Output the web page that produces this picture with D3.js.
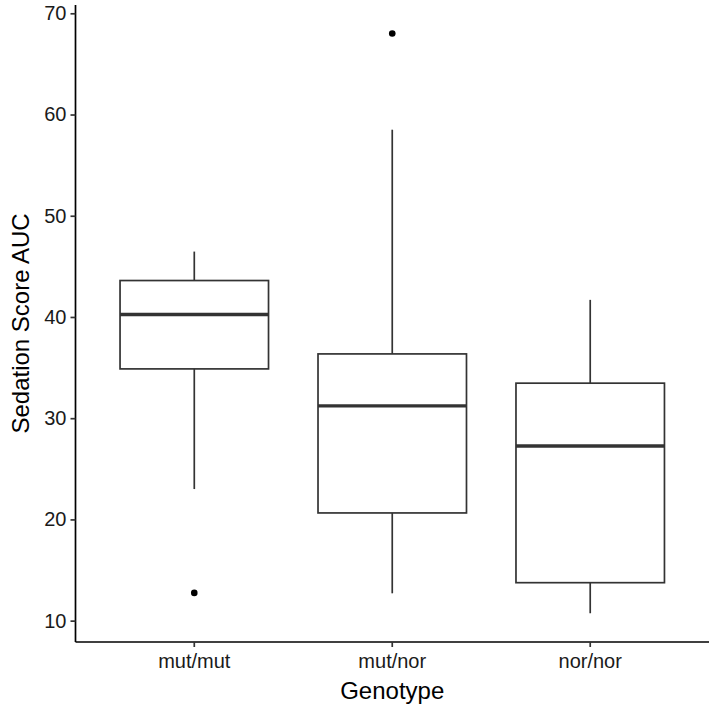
<!DOCTYPE html>
<html>
<head>
<meta charset="utf-8">
<script src="https://cdn.jsdelivr.net/npm/d3@7"></script>
<style>
  body { margin: 0; background: #fff; }
  svg { display: block; font-family: "Liberation Sans", Arial, sans-serif; }
</style>
</head>
<body>
<svg width="709" height="712"></svg>
<script>
// Values
const genotypes = ["mut/mut", "mut/nor", "nor/nor"];
const lowerWhisker = [23.0, 12.7, 10.73];
const q1 = [34.87, 20.64, 13.75];
const median = [40.24, 31.22, 27.26];
const q3 = [43.6, 36.35, 33.46];
const upperWhisker = [46.46, 58.5, 41.69];
const outliers = [[12.74], [68.0], []];
const yTicks = [10, 20, 30, 40, 50, 60, 70];

const svg = d3.select("svg");
const plotLeft = 75.5, plotRight = 709, plotTop = 5, plotBottom = 642;

const y = d3.scaleLinear().domain([7.89, 70.82]).range([plotBottom, plotTop]);
const x = d3.scaleBand().domain(genotypes).range([plotLeft, plotRight])
  .paddingOuter(0.1).paddingInner(0);
// ggplot box width is 0.75 of the category step
const boxW = x.step() * 0.75;
const cx = (g) => x(g) + x.bandwidth() / 2;

const boxes = genotypes.map((g, i) => ({
  g, lo: lowerWhisker[i], q1: q1[i], med: median[i], q3: q3[i], hi: upperWhisker[i], out: outliers[i]
}));

const lineCol = "#333", lw = 1.7;
const plot = svg.append("g");
const box = plot.selectAll(".box").data(boxes).enter().append("g");

box.append("line")
  .attr("x1", d => cx(d.g)).attr("x2", d => cx(d.g))
  .attr("y1", d => y(d.q3)).attr("y2", d => y(d.hi))
  .attr("stroke", lineCol).attr("stroke-width", lw);
box.append("line")
  .attr("x1", d => cx(d.g)).attr("x2", d => cx(d.g))
  .attr("y1", d => y(d.q1)).attr("y2", d => y(d.lo))
  .attr("stroke", lineCol).attr("stroke-width", lw);
box.append("rect")
  .attr("x", d => cx(d.g) - boxW / 2).attr("width", boxW)
  .attr("y", d => y(d.q3)).attr("height", d => y(d.q1) - y(d.q3))
  .attr("fill", "#fff").attr("stroke", lineCol).attr("stroke-width", lw);
box.append("line")
  .attr("x1", d => cx(d.g) - boxW / 2).attr("x2", d => cx(d.g) + boxW / 2)
  .attr("y1", d => y(d.med)).attr("y2", d => y(d.med))
  .attr("stroke", lineCol).attr("stroke-width", 3.4);
box.selectAll("circle").data(d => d.out.map(v => ({ g: d.g, v }))).enter()
  .append("circle")
  .attr("cx", d => cx(d.g)).attr("cy", d => y(d.v)).attr("r", 3.3)
  .attr("fill", "#000");

// axes
const yAxis = svg.append("g").attr("transform", `translate(${plotLeft},0)`)
  .call(d3.axisLeft(y).tickValues(yTicks).tickSize(5).tickPadding(4).tickSizeOuter(0));
const xAxis = svg.append("g").attr("transform", `translate(0,${plotBottom})`)
  .call(d3.axisBottom(x).tickSize(5).tickPadding(7).tickSizeOuter(0));

[yAxis, xAxis].forEach(a => {
  a.select(".domain").attr("stroke", "#000").attr("stroke-width", lw);
  a.selectAll(".tick line").attr("stroke", lineCol).attr("stroke-width", lw);
  a.selectAll(".tick text").attr("fill", "#1a1a1a").style("font-size", "20px")
    .style("font-family", "Liberation Sans, Arial, sans-serif");
});
yAxis.select(".domain").attr("d", `M0,${plotTop}V${plotBottom}`);
xAxis.select(".domain").attr("d", `M${plotLeft},0H${plotRight}`);

svg.append("text")
  .attr("x", (plotLeft + plotRight) / 2).attr("y", 699)
  .attr("text-anchor", "middle").style("font-size", "24px").attr("fill", "#000")
  .text("Genotype");

svg.append("text")
  .attr("transform", `translate(29,${(plotTop + plotBottom) / 2}) rotate(-90)`)
  .attr("text-anchor", "middle").style("font-size", "24px").attr("fill", "#000")
  .text("Sedation Score AUC");
</script>
</body>
</html>
